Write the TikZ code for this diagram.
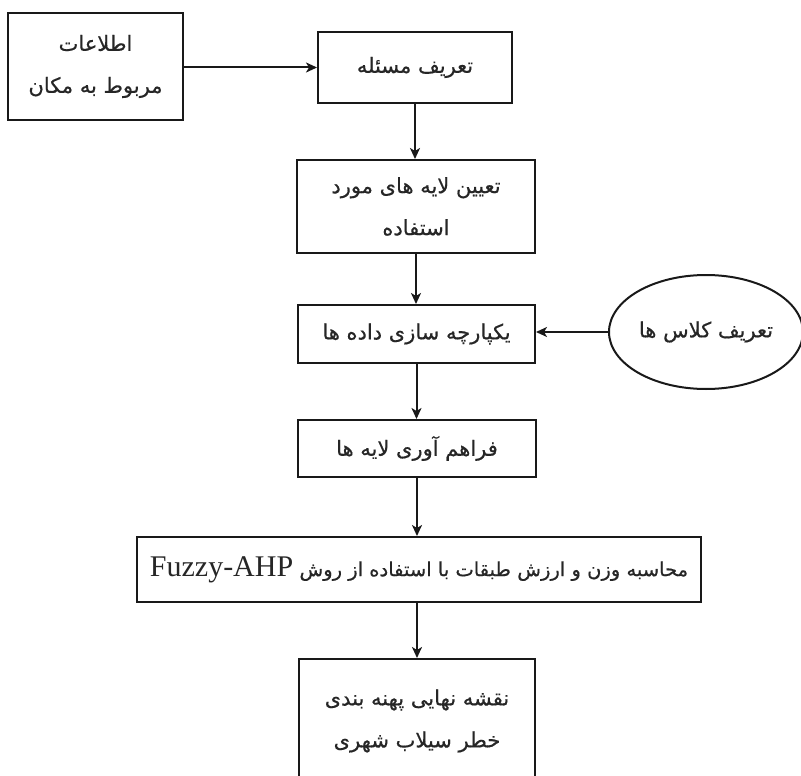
\documentclass[tikz,border=0pt]{standalone}
\usepackage{fontspec}
\usetikzlibrary{arrows.meta,shapes.geometric}
\TeXXeTstate=1
\newfontfamily\fa[Script=Arabic,FakeBold=0.5]{DejaVu Sans}
\newfontfamily\lat{Liberation Serif}
\begin{document}
\begin{tikzpicture}[x=1pt,y=-1pt,
  txt/.style={align=center, inner sep=0pt, text=black!85, font=\fa\fontsize{21}{42}\selectfont},
  box/.style={txt, draw=black!90, line width=2pt, rectangle},
  conn/.style={draw=black!90, line width=2pt, -{Stealth[length=11pt,width=10pt,inset=3pt]}}]
\useasboundingbox (0,0) rectangle (801,776);
\clip (0,0) rectangle (801,776);
\node[box, minimum width=175pt, minimum height=107pt] (b1) at (95.5,66.5)
  {\beginR اطلاعات\endR\\\beginR مربوط به مکان\endR};
\node[box, minimum width=194pt, minimum height=71pt] (b2) at (415,67.5)
  {\beginR تعریف مسئله\endR};
\node[box, minimum width=238pt, minimum height=93pt] (b3) at (416,206.5)
  {\beginR تعیین لایه های مورد\endR\\\beginR استفاده\endR};
\node[box, minimum width=237pt, minimum height=58pt] (b4) at (416.5,334)
  {\beginR یکپارچه سازی داده ها\endR};
\node[txt, draw=black!90, line width=2pt, ellipse, minimum width=194pt, minimum height=114pt] (el) at (706,332)
  {\beginR تعریف کلاس ها\endR};
\node[box, minimum width=238pt, minimum height=57pt] (b5) at (417,448.5)
  {\beginR فراهم آوری لایه ها\endR};
\node[box, minimum width=564pt, minimum height=65pt, font=\fa\fontsize{19.5}{30}\selectfont] (b6) at (419,569.5)
  {\beginR محاسبه وزن و ارزش طبقات با استفاده از روش \beginL{\lat\fontsize{30}{30}\selectfont Fuzzy-AHP}\endL\endR};
\node[box, minimum width=236pt, minimum height=160pt] (b7) at (417,739) {};
\node[txt] (b7t) at (417,721)
  {\beginR نقشه نهایی پهنه بندی\endR\\\beginR خطر سیلاب شهری\endR};
\draw[conn] (b1.east |- b2.west) -- (b2.west);
\draw[conn] (b2.south) -- (b2.south |- b3.north);
\draw[conn] (b3.south) -- (b3.south |- b4.north);
\draw[conn] (el.west) -- (el.west -| b4.east);
\draw[conn] (b4.south) -- (b4.south |- b5.north);
\draw[conn] (b5.south) -- (b5.south |- b6.north);
\draw[conn] (b5.south |- b6.south) -- (b5.south |- b7.north);
\end{tikzpicture}
\end{document}
